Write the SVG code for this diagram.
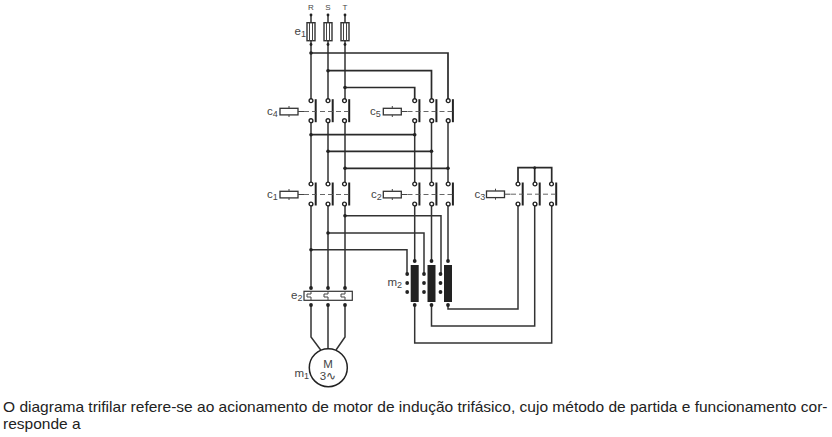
<svg xmlns="http://www.w3.org/2000/svg" xmlns:xlink="http://www.w3.org/1999/xlink" width="832" height="437" viewBox="0 0 832 437">
<style>
.w{fill:none;stroke:#333;stroke-width:1.5}
.h{fill:none;stroke:#2a2a2a;stroke-width:1.7}
.d{fill:#222}
.lab{font-family:"Liberation Sans",Arial,sans-serif;fill:#444;font-size:11.5px}
.sub{font-size:9px}
.q{font-family:"Liberation Sans",Arial,sans-serif;fill:#222;font-size:15.53px}
.coil{fill:#fff;stroke:#333;stroke-width:1.3}
.thin{fill:none;stroke:#444;stroke-width:1}
.dash{fill:none;stroke:#555;stroke-width:.9;stroke-dasharray:5 3}
</style>
<defs>
<g id="pole">
<circle cx="0" cy="0" r="1.9" fill="#fff" stroke="#222" stroke-width="1.4"/>
<circle cx="0" cy="20" r="1.9" fill="#fff" stroke="#222" stroke-width="1.4"/>
<path d="M4.7 -1.5V21.5" fill="none" stroke="#222" stroke-width="2"/>
</g>
<g id="contactor">
<use xlink:href="#pole" x="0"/><use xlink:href="#pole" x="17"/><use xlink:href="#pole" x="33.5"/>
</g>
<g id="coilsym">
<rect class="coil" x="0" y="-3.2" width="18" height="6.6"/>
<path class="thin" d="M9 -5.5V-3.2M9 3.4V5.5M18 0H24"/>
</g>
<g id="fuse">
<rect x="-4" y="0" width="8" height="18" fill="#fff" stroke="#333" stroke-width="1.4"/>
<path class="thin" d="M-1.5 0V18M1.5 0V18"/>
</g>
<g id="coilbar">
<rect x="-4" y="0" width="8" height="37" fill="#222"/>
<circle class="d" cx="0" cy="-4" r="1.9"/><circle class="d" cx="0" cy="40" r="1.9"/>
<circle class="d" cx="-7.5" cy="9" r="1.9"/><circle class="d" cx="-7.5" cy="18" r="1.9"/><circle class="d" cx="-7.5" cy="27" r="1.9"/>
</g>
</defs>
<rect width="832" height="437" fill="#fff"/>
<g id="connectors">
<path class="w" d="M311 14V99M328 14V99M345 14V99"/>
<path class="w" d="M311 121V183M328 121V183M345 121V183"/>
<path class="w" d="M311 204V288M328 204V288M345 204V288"/>
<path class="w" d="M311 305V337L320.7 350M328 305V350M345 305V337L336 350"/>
<path class="h" d="M311 53H448V99M328 70.7H431.5V99M345 87.5H414.7V99"/>
<path class="w" d="M414.7 121V183M431.5 121V183M448 121V183"/>
<path class="h" d="M311 134.7H414.7M328 151.3H431.5M345 168.3H448"/>
<path class="w" d="M414.7 204V261M431.5 204V261M448 204V261"/>
<path class="w" d="M345 215.7H441V273M328 233H424V273M311 249.7H407V273"/>
<path class="w" d="M448 305V309H518V204M431.5 305V326H534.7V204M414.7 305V343H551.7V204"/>
<path class="h" d="M518 182V167.7H551.7V182M534.7 167.7V182"/>
<g class="d">
<circle cx="311" cy="53" r="1.8"/><circle cx="328" cy="70.7" r="1.8"/><circle cx="345" cy="87.5" r="1.8"/>
<circle cx="311" cy="134.7" r="1.8"/><circle cx="414.7" cy="134.7" r="1.8"/><circle cx="328" cy="151.3" r="1.8"/><circle cx="431.5" cy="151.3" r="1.8"/><circle cx="345" cy="168.3" r="1.8"/><circle cx="448" cy="168.3" r="1.8"/>
<circle cx="345" cy="215.7" r="1.8"/><circle cx="328" cy="233" r="1.8"/><circle cx="311" cy="249.7" r="1.8"/><circle cx="534.7" cy="167.7" r="1.5"/>
<circle cx="311" cy="288" r="1.9"/><circle cx="328" cy="288" r="1.9"/><circle cx="345" cy="288" r="1.9"/>
<circle cx="311" cy="305" r="1.9"/><circle cx="328" cy="305" r="1.9"/><circle cx="345" cy="305" r="1.9"/>
<circle cx="311" cy="15" r="1.4"/><circle cx="328" cy="15" r="1.4"/><circle cx="345" cy="15" r="1.4"/>
<circle cx="311" cy="44.5" r="1.4"/><circle cx="328" cy="44.5" r="1.4"/><circle cx="345" cy="44.5" r="1.4"/>
</g>
</g>
<g id="supply">
<text class="lab" style="font-size:8px" x="311" y="10" text-anchor="middle">R</text>
<text class="lab" style="font-size:8px" x="328" y="10" text-anchor="middle">S</text>
<text class="lab" style="font-size:8px" x="345" y="10" text-anchor="middle">T</text>
</g>
<g id="e1">
<use xlink:href="#fuse" x="311" y="22.7"/><use xlink:href="#fuse" x="328" y="22.7"/><use xlink:href="#fuse" x="345" y="22.7"/>
<text class="lab" x="294.5" y="35">e<tspan class="sub" dy="2">1</tspan></text>
</g>
<g id="c4">
<use xlink:href="#contactor" x="311" y="100.7"/>
<use xlink:href="#coilsym" x="280" y="111.5"/>
<path class="dash" d="M304 111.5H350"/>
<text class="lab" x="267" y="115">c<tspan class="sub" dy="2">4</tspan></text>
</g>
<g id="c5">
<use xlink:href="#contactor" x="414.7" y="100.7"/>
<use xlink:href="#coilsym" x="383.3" y="111.5"/>
<path class="dash" d="M407.5 111.5H453"/>
<text class="lab" x="370" y="115">c<tspan class="sub" dy="2">5</tspan></text>
</g>
<g id="c1">
<use xlink:href="#contactor" x="311" y="184"/>
<use xlink:href="#coilsym" x="280" y="194.5"/>
<path class="dash" d="M304 194.5H350"/>
<text class="lab" x="267" y="198">c<tspan class="sub" dy="2">1</tspan></text>
</g>
<g id="c2">
<use xlink:href="#contactor" x="414.7" y="184"/>
<use xlink:href="#coilsym" x="383.3" y="194.5"/>
<path class="dash" d="M407.5 194.5H453"/>
<text class="lab" x="371" y="198">c<tspan class="sub" dy="2">2</tspan></text>
</g>
<g id="c3">
<use xlink:href="#contactor" x="518" y="184"/>
<use xlink:href="#coilsym" x="486.5" y="194.2"/>
<path class="dash" d="M511 194.2H556"/>
<text class="lab" x="474.5" y="198">c<tspan class="sub" dy="2">3</tspan></text>
</g>
<g id="m2">
<use xlink:href="#coilbar" x="414.7" y="265"/><use xlink:href="#coilbar" x="431.5" y="265"/><use xlink:href="#coilbar" x="448" y="265"/>
<text class="lab" x="387.5" y="286">m<tspan class="sub" dy="2">2</tspan></text>
</g>
<g id="e2">
<rect x="304" y="291.3" width="48.3" height="9" fill="#fff" stroke="#333" stroke-width="1.2"/>
<path class="thin" d="M311 291.5V294H307V297H311V300M328 291.5V294H324V297H328V300M345 291.5V294H341V297H345V300"/>
<text class="lab" x="291" y="299">e<tspan class="sub" dy="2">2</tspan></text>
</g>
<g id="m1">
<circle cx="328.3" cy="367.7" r="19" fill="#fff" stroke="#222" stroke-width="1.5"/>
<text class="lab" x="328" y="368" text-anchor="middle">M</text>
<text class="lab" x="328" y="380" text-anchor="middle">3∿</text>
<text class="lab" x="294.5" y="377">m<tspan class="sub" dy="2">1</tspan></text>
</g>
<g id="caption">
<text class="q" x="3" y="412">O diagrama trifilar refere-se ao acionamento de motor de indução trifásico, cujo método de partida e funcionamento cor-</text>
<text class="q" x="3" y="429">responde a</text>
</g>
</svg>
